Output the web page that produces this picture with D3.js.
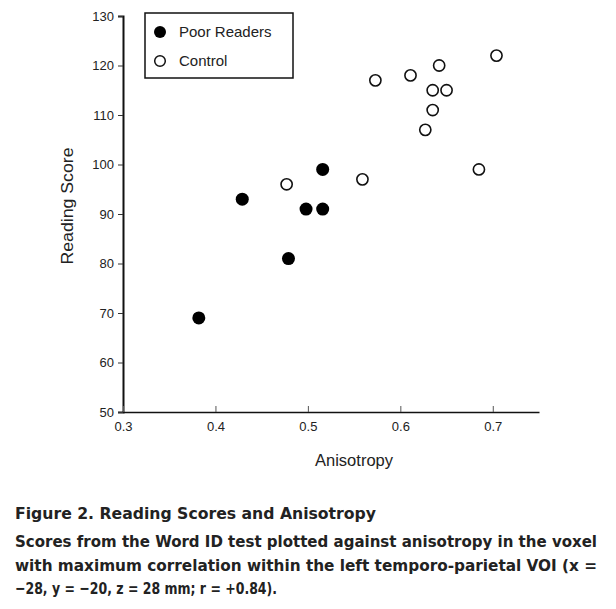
<!DOCTYPE html>
<html lang="en">
<head>
<meta charset="UTF-8">
<title>Reading Scores and Anisotropy</title>
<script src="https://d3js.org/d3.v7.min.js"></script>
<style>
  body { margin: 0; background: #fff; }
  svg text { fill: #222; }
</style>
</head>
<body>
<div id="chart"></div>
<script>
// data
var poorX = [0.382, 0.429, 0.479, 0.498, 0.516, 0.516];
var poorY = [69, 93, 81, 91, 91, 99];
var ctrlX = [0.477, 0.559, 0.573, 0.611, 0.642, 0.635, 0.650, 0.635, 0.627, 0.704, 0.685];
var ctrlY = [96, 97, 117, 118, 120, 115, 115, 111, 107, 122, 99];
var xTicks = [0.3, 0.4, 0.5, 0.6, 0.7];
var yTicks = [50, 60, 70, 80, 90, 100, 110, 120, 130];
var legendLabels = ["Poor Readers", "Control"];
var captionTitle = "Figure 2.  Reading Scores and Anisotropy";
var captionLines = [
  "Scores from the Word ID test plotted against anisotropy in the voxel",
  "with maximum correlation within the left temporo-parietal VOI (x =",
  "\u221228, y = \u221220, z = 28 mm; r = +0.84)."
];

var width = 616, height = 609;
var m = { left: 123, right: 539, top: 16, bottom: 412 };

var svg = d3.select("#chart").append("svg")
  .attr("width", width).attr("height", height)
  .style("font-family", "'Liberation Sans', Arial, sans-serif");

var x = d3.scaleLinear().domain([0.3, 0.75]).range([m.left, m.right]);
var y = d3.scaleLinear().domain([50, 130]).range([m.bottom, m.top]);

// y axis
var yAxis = svg.append("g")
  .attr("transform", "translate(" + m.left + ",0)")
  .call(d3.axisLeft(y).tickValues(yTicks).tickSize(5).tickPadding(4));
yAxis.select(".domain").attr("stroke", "#111").attr("stroke-width", 2);
yAxis.selectAll(".tick line").attr("stroke", "#333");
yAxis.selectAll("text").attr("font-size", "13px").attr("fill", "#222");

// x axis (ticks point up)
var xAxis = svg.append("g")
  .attr("transform", "translate(0," + m.bottom + ")")
  .call(d3.axisBottom(x).tickValues(xTicks).tickSize(0).tickPadding(10).tickFormat(d3.format(".1f")));
xAxis.select(".domain").attr("stroke", "#111").attr("stroke-width", 1.5);
xAxis.selectAll(".tick").append("line")
  .attr("y1", 0).attr("y2", -6).attr("stroke", "#555");
xAxis.selectAll("text").attr("font-size", "13px").attr("fill", "#222");

// axis titles
svg.append("text")
  .attr("transform", "translate(73,206) rotate(-90)")
  .attr("text-anchor", "middle")
  .attr("font-size", "16px")
  .attr("textLength", 117).attr("lengthAdjust", "spacingAndGlyphs")
  .text("Reading Score");
svg.append("text")
  .attr("x", 354)
  .attr("y", 466)
  .attr("text-anchor", "middle")
  .attr("font-size", "16px")
  .attr("textLength", 78).attr("lengthAdjust", "spacingAndGlyphs")
  .text("Anisotropy");

// points
var poor = poorX.map(function(d, i) { return { x: d, y: poorY[i] }; });
var ctrl = ctrlX.map(function(d, i) { return { x: d, y: ctrlY[i] }; });

svg.selectAll(".ctrl").data(ctrl).enter().append("circle")
  .attr("class", "ctrl")
  .attr("cx", function(d) { return x(d.x); })
  .attr("cy", function(d) { return y(d.y); })
  .attr("r", 5.6)
  .attr("fill", "#fff")
  .attr("stroke", "#111")
  .attr("stroke-width", 1.6);

svg.selectAll(".poor").data(poor).enter().append("circle")
  .attr("class", "poor")
  .attr("cx", function(d) { return x(d.x); })
  .attr("cy", function(d) { return y(d.y); })
  .attr("r", 6.5)
  .attr("fill", "#000");

// legend
var lg = svg.append("g");
lg.append("rect")
  .attr("x", 145).attr("y", 13).attr("width", 148).attr("height", 65)
  .attr("fill", "#fff").attr("stroke", "#111").attr("stroke-width", 1.5);
lg.append("circle").attr("cx", 160).attr("cy", 32).attr("r", 6).attr("fill", "#000");
lg.append("circle").attr("cx", 160).attr("cy", 61).attr("r", 5.3)
  .attr("fill", "#fff").attr("stroke", "#111").attr("stroke-width", 1.5);
legendLabels.forEach(function(t, i) {
  lg.append("text").attr("x", 179).attr("y", 37 + i * 29)
    .attr("font-size", "15px").text(t);
});

// caption
var cap = svg.append("g")
  .style("font-family", "'Liberation Sans Narrow', 'DejaVu Sans Condensed', sans-serif")
  .attr("font-weight", "bold");
cap.append("text").attr("x", 15).attr("y", 519)
  .attr("font-size", "16.5px")
  .attr("textLength", 361).attr("lengthAdjust", "spacingAndGlyphs")
  .text(captionTitle);
var capWidths = [582, 582, 262];
captionLines.forEach(function(t, i) {
  cap.append("text").attr("x", 15).attr("y", 547 + i * 23.5)
    .attr("font-size", "16.5px")
    .attr("textLength", capWidths[i]).attr("lengthAdjust", "spacingAndGlyphs")
    .text(t);
});
</script>
</body>
</html>
